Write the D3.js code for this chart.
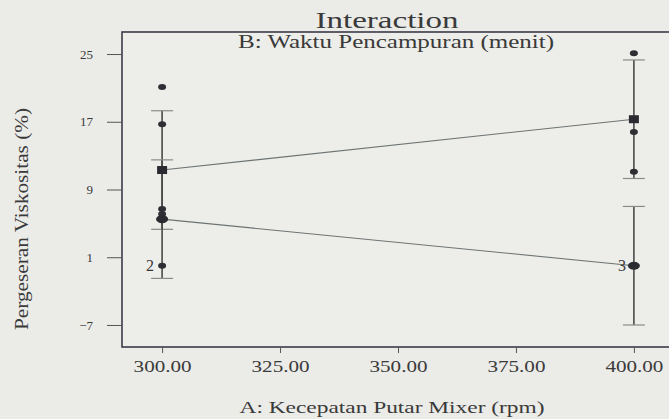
<!DOCTYPE html>
<html>
<head>
<meta charset="utf-8">
<script src="https://cdn.jsdelivr.net/npm/d3@7"></script>
<style>
  body { margin: 0; background: #ebebe8; }
  svg { display: block; }
  text { font-family: "Liberation Serif", "DejaVu Serif", "Times New Roman", serif; fill: #3a3a3a; }
</style>
</head>
<body>
<div id="chart"></div>
<script>
// factor A levels (rpm)
const levels = [300, 400];
// B+ series (squares, upper line)
const meanHigh = [11.3, 17.3];
// B- series (lower line)
const meanLow = [5.5, 0.0];
// LSD half-width of the error bars
const lsd = [7.0, 7.0];
// observed design points: [A, response, count]
const points = [
  [300, 21.1, 1], [300, 16.7, 1], [300, 6.7, 1], [300, 6.1, 1], [300, 0.0, 2],
  [400, 25.1, 1], [400, 15.8, 1], [400, 11.1, 1], [400, 0.0, 3]
];
const xTicks = [300, 325, 350, 375, 400];
const yTicks = [25, 17, 9, 1, -7];

const W = 669, H = 419;
const margin = { top: 32, right: -5, bottom: 72, left: 122 };
const serif = "'Liberation Serif', 'DejaVu Serif', 'Times New Roman', serif";

const svg = d3.select("#chart").append("svg")
  .attr("width", W).attr("height", H);

const x = d3.scaleLinear().domain([291.5, 408.5])
  .range([margin.left, W - margin.right]);
const y = d3.scaleLinear().domain([-9.6, 27.6])
  .range([H - margin.bottom, margin.top]);

const g = svg.append("g");

// frame
g.append("rect")
  .attr("x", x.range()[0]).attr("y", y.range()[1])
  .attr("width", x.range()[1] - x.range()[0])
  .attr("height", y.range()[0] - y.range()[1])
  .attr("fill", "#edede9").attr("stroke", "#3c3a48").attr("stroke-width", 1.6);

// y axis
const yAxis = g.append("g")
  .attr("transform", `translate(${margin.left},0)`)
  .call(d3.axisLeft(y).tickValues(yTicks).tickSize(15).tickPadding(14).tickFormat(d3.format("d")));
yAxis.attr("font-family", null);
yAxis.select(".domain").remove();
yAxis.selectAll("line").attr("stroke", "#555");
yAxis.selectAll("text").style("font-size", "13px").attr("fill", "#3a3a3a")
  .style("font-family", serif);

// x axis
const xAxis = g.append("g")
  .attr("transform", `translate(0,${y.range()[0]})`)
  .call(d3.axisBottom(x).tickValues(xTicks).tickSize(6).tickPadding(8).tickFormat(d3.format(".2f")));
xAxis.attr("font-family", null);
xAxis.select(".domain").remove();
xAxis.selectAll("line").attr("stroke", "#555");
xAxis.selectAll("text").style("font-size", "16px").attr("fill", "#3a3a3a")
  .style("font-family", serif)
  .attr("textLength", 58).attr("lengthAdjust", "spacingAndGlyphs");

// error bars
const bars = [];
levels.forEach((a, i) => {
  bars.push({ a: a, m: meanHigh[i], h: lsd[i] });
  bars.push({ a: a, m: meanLow[i], h: lsd[i] });
});
bars.forEach(b => {
  g.append("line")
    .attr("x1", x(b.a)).attr("x2", x(b.a))
    .attr("y1", y(b.m + b.h)).attr("y2", y(b.m - b.h))
    .attr("stroke", "#4a4a4a").attr("stroke-width", 1.6);
  [b.m + b.h, b.m - b.h].forEach(v => {
    g.append("line")
      .attr("x1", x(b.a) - 11).attr("x2", x(b.a) + 11)
      .attr("y1", y(v)).attr("y2", y(v))
      .attr("stroke", "#8a8a8a").attr("stroke-width", 1.2);
  });
});

// interaction lines
const line = d3.line().x(d => x(d[0])).y(d => y(d[1]));
g.append("path").datum(levels.map((a, i) => [a, meanHigh[i]]))
  .attr("d", line).attr("fill", "none").attr("stroke", "#6d7474").attr("stroke-width", 1.1);
g.append("path").datum(levels.map((a, i) => [a, meanLow[i]]))
  .attr("d", line).attr("fill", "none").attr("stroke", "#6d7474").attr("stroke-width", 1.1);

// design points
g.selectAll(".pt").data(points).enter().append("ellipse")
  .attr("class", "pt")
  .attr("cx", d => x(d[0])).attr("cy", d => y(d[1]))
  .attr("rx", 4).attr("ry", 3)
  .attr("fill", "#2e2e34");
g.selectAll(".cnt").data(points.filter(d => d[2] > 1)).enter().append("text")
  .attr("class", "cnt")
  .attr("x", d => x(d[0]) - 8).attr("y", d => y(d[1]))
  .attr("dy", "0.36em").attr("text-anchor", "end")
  .style("font-size", "16px")
  .attr("fill", "#666")
  .text(d => d[2]);

// means
levels.forEach((a, i) => {
  g.append("rect")
    .attr("x", x(a) - 5).attr("y", y(meanHigh[i]) - 4)
    .attr("width", 10).attr("height", 8).attr("fill", "#2a2a30");
  g.append("ellipse")
    .attr("cx", x(a)).attr("cy", y(meanLow[i]))
    .attr("rx", 6).attr("ry", 4).attr("fill", "#2a2a30");
});

// titles
svg.append("text")
  .attr("x", 387).attr("y", 28).attr("text-anchor", "middle")
  .style("font-size", "24px")
  .attr("textLength", 143).attr("lengthAdjust", "spacingAndGlyphs")
  .text("Interaction");
svg.append("text")
  .attr("x", 396).attr("y", 48).attr("text-anchor", "middle")
  .style("font-size", "19px")
  .attr("textLength", 316).attr("lengthAdjust", "spacingAndGlyphs")
  .text("B: Waktu Pencampuran (menit)");
svg.append("text")
  .attr("x", 392).attr("y", 413).attr("text-anchor", "middle")
  .style("font-size", "17px")
  .attr("textLength", 305).attr("lengthAdjust", "spacingAndGlyphs")
  .text("A: Kecepatan Putar Mixer (rpm)");
svg.append("text")
  .attr("transform", "translate(28,219) rotate(-90)")
  .attr("text-anchor", "middle")
  .style("font-size", "19px")
  .attr("textLength", 222).attr("lengthAdjust", "spacingAndGlyphs")
  .text("Pergeseran Viskositas (%)");
</script>
</body>
</html>
